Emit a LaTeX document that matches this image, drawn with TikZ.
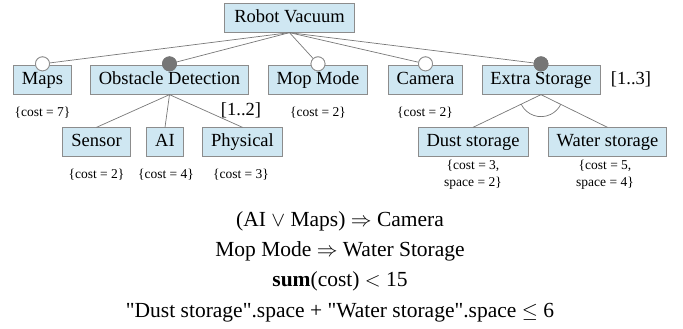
\documentclass[tikz,border=0pt]{standalone}
\usepackage{fontspec}
\setmainfont{Liberation Serif}
\usetikzlibrary{calc}
\definecolor{boxfill}{RGB}{207,231,242}
\definecolor{boxline}{RGB}{140,140,140}
\definecolor{edgecol}{RGB}{120,120,120}
\definecolor{mandfill}{RGB}{118,118,118}
\begin{document}
\begin{tikzpicture}[x=1pt,y=1pt,
  feat/.style={draw=boxline, fill=boxfill, line width=0.8pt, font=\fontsize{18.5}{20}\selectfont,
    inner xsep=8.5pt, inner ysep=0pt, minimum height=28.5pt, text height=13pt, text depth=4pt},
  optc/.style={circle, draw=boxline, fill=white, line width=0.8pt, minimum size=14pt, inner sep=0pt},
  mandc/.style={circle, draw=mandfill, fill=mandfill, line width=0.8pt, minimum size=14pt, inner sep=0pt},
  conn/.style={draw=edgecol, line width=0.7pt},
  attr/.style={font=\fontsize{13.5}{16.5}\selectfont, align=center, inner sep=0pt},
  card/.style={font=\fontsize{18.5}{20}\selectfont, inner sep=0pt},
  cons/.style={font=\fontsize{21.5}{24}\selectfont, inner sep=0pt, anchor=base}]
\useasboundingbox (0,0) rectangle (683,329);

% features
\node[feat, inner xsep=10pt] (root) at (289.5,311) {Robot Vacuum};
\node[feat] (maps) at (42.5,249) {Maps};
\node[feat] (obst) at (169.5,249) {Obstacle Detection};
\node[feat] (mop) at (318,249) {Mop Mode};
\node[feat] (cam) at (425.5,249) {Camera};
\node[feat] (extra) at (541,249) {Extra Storage};
\node[feat] (sensor) at (96.5,187) {Sensor};
\node[feat] (ai) at (165,187) {AI};
\node[feat] (phys) at (242.5,187) {Physical};
\node[feat] (dust) at (473,187) {Dust storage};
\node[feat] (water) at (607.5,187) {Water storage};

% sub-feature edges
\draw[conn] (obst.south) -- (sensor.north);
\draw[conn] (obst.south) -- (ai.north);
\draw[conn] (obst.south) -- (phys.north);
\draw[conn] (extra.south) -- (dust.north);
\draw[conn] (extra.south) -- (water.north);
\draw[conn] let \p1=($(dust.north)-(extra.south)$), \p2=($(water.north)-(extra.south)$),
  \n1={atan2(\y1,\x1)}, \n2={atan2(\y2,\x2)} in
  ($(extra.south)+(\n1:22pt)$) arc[start angle=\n1, end angle=\n2, radius=22pt];

% edges from root to circles
\node[optc] (omaps) at ($(maps.north)+(0,1.5)$) {};
\node[mandc] (oobst) at ($(obst.north)+(0,1.5)$) {};
\node[optc] (omop) at ($(mop.north)+(0,1.5)$) {};
\node[optc] (ocam) at ($(cam.north)+(0,1.5)$) {};
\node[mandc] (oextra) at ($(extra.north)+(0,1.5)$) {};
\draw[conn] (root.south) -- (omaps);
\draw[conn] (root.south) -- (oobst);
\draw[conn] (root.south) -- (omop);
\draw[conn] (root.south) -- (ocam);
\draw[conn] (root.south) -- (oextra);
\node[optc] at (omaps) {};
\node[mandc] at (oobst) {};
\node[optc] at (omop) {};
\node[optc] at (ocam) {};
\node[mandc] at (oextra) {};

% cardinalities
\node[card] (c12) at (241,219) {[1..2]};
\node[card] (c13) at (631,250) {[1..3]};

% attributes
\node[attr] (amaps) at (42.5,216) {\{cost = 7\}};
\node[attr] (amop) at (318,216) {\{cost = 2\}};
\node[attr] (acam) at (425,216) {\{cost = 2\}};
\node[attr] (asensor) at (96.5,154) {\{cost = 2\}};
\node[attr] (aai) at (166,154) {\{cost = 4\}};
\node[attr] (aphys) at (241,154) {\{cost = 3\}};
\node[attr] (adust) at (473,154) {\{cost = 3,\\space = 2\}};
\node[attr] (awater) at (605,154) {\{cost = 5,\\space = 4\}};

% constraints
\node[cons] (k1) at (340,102) {(AI $\vee$ Maps) $\Rightarrow$ Camera};
\node[cons] (k2) at (340,72) {Mop Mode $\Rightarrow$ Water Storage};
\node[cons] (k3) at (340,42) {\textbf{sum}(cost) $<$ 15};
\node[cons] (k4) at (340,11) {\textquotedbl Dust storage\textquotedbl.space + \textquotedbl Water storage\textquotedbl.space $\leq$ 6};
\end{tikzpicture}
\end{document}
